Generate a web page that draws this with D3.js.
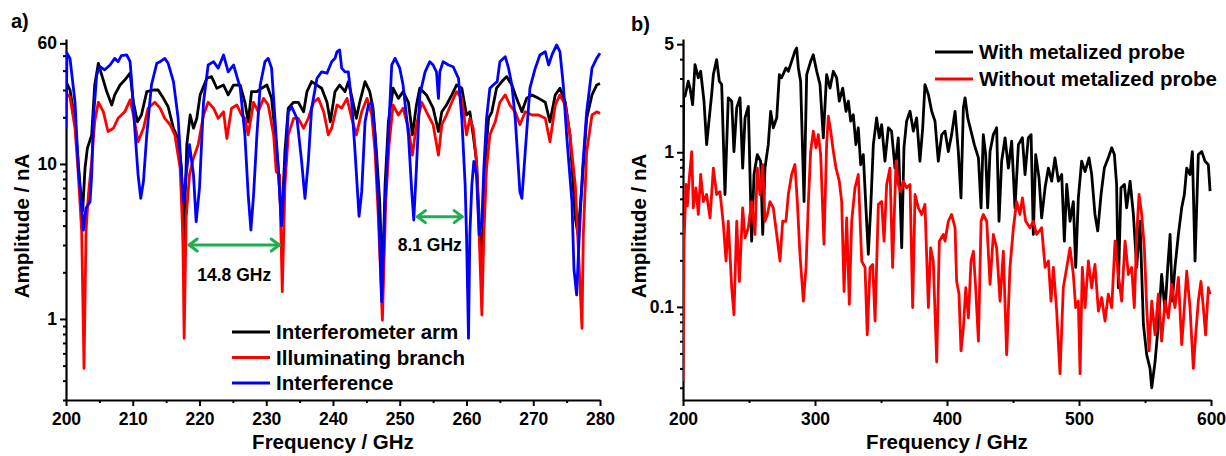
<!DOCTYPE html>
<html>
<head>
<meta charset="utf-8">
<script src="https://cdn.jsdelivr.net/npm/d3@7"></script>
<style>
  body { margin: 0; background: #fff; }
  svg { display: block; }
  text { font-family: "Liberation Sans", Arial, sans-serif; font-weight: bold; fill: #000; }
</style>
</head>
<body>
<svg id="chart" width="1226" height="456"></svg>
<script>
// ---- panel a) data: [frequency GHz, amplitude nA] ----
const interferometerArm = [[200,34],[200.6,30],[201.35,18.7],[202.1,7.3],[202.5,5.0],[202.85,9.4],[203.2,12.6],[203.85,15.4],[204.3,32.3],[204.85,44.6],[205.35,37.5],[206.1,29.3],[206.85,24],[207.3,27.9],[208.1,32.3],[208.8,34.8],[209.6,38.5],[210.1,25],[210.7,18.7],[211.3,20.7],[212.1,29.3],[213.1,30],[213.8,30],[214.6,26.5],[215.3,23.4],[216.1,17],[216.8,14.6],[217.3,9.4],[217.6,2.8],[218.1,13.3],[218.6,20.7],[219.1,17],[219.6,19.7],[220.1,27.9],[221.1,35.7],[221.8,36.6],[222.6,30.8],[223.6,32.3],[224.3,27.9],[225.1,32.3],[226.1,32.3],[226.8,25],[227.3,18.7],[227.8,29.3],[228.6,29.3],[229.3,30.8],[230.1,32.3],[230.8,26.5],[231.3,16.2],[231.8,9.4],[232.3,4.0],[232.8,12],[233.3,22.9],[234.1,25],[234.8,25],[235.6,21.7],[236.1,29.3],[236.8,34],[237.6,32.3],[238.3,30.8],[239.1,25],[239.6,18.7],[240.3,29.3],[241.0,32.3],[241.8,29.3],[242.3,34],[243.0,25],[243.5,19.7],[244.0,25],[244.8,34],[245.5,29.3],[246.0,22.9],[246.5,12],[247.0,5.7],[247.4,1.66],[247.8,7.3],[248.3,18.7],[249.0,30.8],[249.8,26.5],[250.5,29.3],[251.3,25],[251.9,15.4],[252.5,24],[253.0,30.8],[254.0,27.9],[255.0,22.9],[255.8,16.2],[256.3,21.7],[257.0,24],[257.8,27.9],[258.5,32.3],[259.3,30.8],[260.0,20.7],[260.5,21.7],[261.0,15.4],[261.5,10.4],[262.0,3.5],[262.3,2.2],[262.7,9.4],[263.3,19.7],[263.8,21.7],[264.5,30.8],[265.3,34],[266.0,36.6],[266.8,32.3],[267.5,26.5],[268.3,21.7],[269.0,26.5],[269.8,27.9],[270.8,26.5],[271.8,25],[272.5,18.7],[273.3,27.9],[274.0,30.8],[274.8,25],[275.5,15.4],[276.3,4.5],[276.7,3.5],[277.3,7.3],[278.0,19.7],[278.8,27.9],[279.5,32.3],[280,33]];

const illuminatingBranch = [[200,28.6],[200.6,27],[201.35,17],[201.85,8.5],[202.35,3.66],[202.7,0.48],[203.0,3.66],[203.35,6.3],[203.85,10.4],[204.3,18.7],[204.85,25],[205.6,21.7],[206.3,16.2],[207.1,17],[207.8,19.7],[208.8,21.7],[209.6,25.9],[210.1,20.7],[210.8,13.9],[211.6,17],[212.3,22.9],[213.3,25],[214.1,22.9],[214.8,19.7],[215.6,17.9],[216.3,15.4],[217.1,9.4],[217.5,3.5],[217.7,0.75],[218.0,4.5],[218.5,8.5],[219.1,10.9],[219.8,13.3],[220.6,20.7],[221.3,25],[222.1,22.9],[222.8,19.7],[223.6,21.7],[224.1,14.6],[224.8,22.9],[225.6,24],[226.3,20.7],[226.8,19.7],[227.3,15.4],[228.1,25],[228.8,21.7],[229.6,26.5],[230.3,24],[231.1,15.4],[231.5,8.9],[232.0,8.5],[232.4,1.5],[232.8,7.3],[233.3,15.4],[234.1,19.7],[234.8,19.7],[235.6,17],[236.3,19.7],[237.1,25],[237.8,26.5],[238.6,21.7],[239.3,15.4],[239.8,17],[240.6,24],[241.3,22.9],[242.1,26.5],[242.8,19.7],[243.5,15.4],[244.3,21.7],[245.1,26.5],[245.8,20.7],[246.3,12],[246.8,4.5],[247.4,0.98],[247.9,5.7],[248.4,13.3],[249.0,24],[249.8,20.7],[250.5,22.9],[251.3,17],[251.9,11.4],[252.5,17.9],[253.3,25],[254.0,21.7],[255.0,17.9],[255.8,11.4],[256.3,17.9],[257.0,20.7],[257.8,25],[258.5,29.3],[259.3,26.5],[260.0,15.4],[260.5,19.7],[261.0,17],[261.5,10.4],[261.9,3.5],[262.3,1.06],[262.6,3.5],[263.0,9.4],[263.5,15.4],[264.3,18.7],[265.0,25],[265.8,27.9],[266.5,24],[267.3,21.7],[268.0,17.9],[268.8,21.7],[269.8,20.7],[270.8,20.7],[271.8,19.7],[272.5,13.9],[273.3,24],[274.0,27.9],[274.8,24],[275.5,15.4],[276.3,7.3],[276.9,2.1],[277.3,0.87],[277.5,3.5],[278.0,12],[278.8,20.7],[279.5,21.7],[280,21.2]];

const interference = [[200,17],[200.15,51.8],[200.6,48],[201.35,25],[201.85,9.4],[202.35,5.2],[202.6,3.75],[203.0,5.2],[203.6,5.7],[203.85,8.5],[204.1,19.7],[204.6,37.5],[205.1,42.4],[205.8,40.5],[206.6,43.5],[207.3,48],[207.8,45.7],[208.3,50],[209.1,50.5],[209.6,45.7],[209.8,35.7],[210.3,17],[210.8,8.5],[211.2,6.0],[211.6,7.7],[212.1,15.4],[212.8,32.3],[213.6,44.6],[214.1,45.7],[214.8,48],[215.3,44.6],[216.1,34],[216.8,19.7],[217.3,8.5],[217.6,5.7],[218.0,8.5],[218.5,13.3],[219.1,8.5],[219.5,4.25],[220.0,7.0],[220.6,25],[221.3,43.5],[222.1,45.7],[222.8,41.5],[223.6,50.5],[224.3,39.3],[225.1,43.5],[226.1,31],[226.8,15.4],[227.3,6.3],[227.7,3.75],[228.1,6.3],[228.6,15.4],[229.1,32.3],[229.8,45.7],[230.3,48],[230.8,41.5],[231.3,19.7],[231.8,9.4],[232.3,4.0],[232.8,9.4],[233.3,21.7],[233.8,23.4],[234.6,19.7],[235.3,10.4],[235.8,6.0],[236.3,10.4],[236.8,22.9],[237.6,35.7],[238.3,39.3],[239.1,38.5],[239.8,45.7],[240.3,48],[240.6,53],[241,54.4],[241.3,41.5],[241.8,39.3],[242.3,39.3],[242.8,25],[243.3,12],[243.9,4.6],[244.3,6.6],[244.8,18.7],[245.3,24],[245.8,25],[246.3,15.4],[246.8,5.7],[247.3,1.29],[247.8,5.7],[248.3,15.4],[248.8,43.5],[249.3,48],[250,41.5],[250.5,32.3],[251.3,15.4],[251.8,6.6],[252.1,4.35],[252.5,9.4],[253.0,27.9],[253.8,39.3],[254.5,45.7],[255.0,43.5],[255.5,39.3],[255.8,26.5],[256.0,39.3],[256.5,45.7],[257.3,43.5],[258.0,42.4],[258.8,35.7],[259.3,19.7],[259.8,7.3],[260.0,3.5],[260.3,0.75],[260.5,3.5],[260.8,7.3],[261.1,10.4],[261.5,8.5],[261.9,3.5],[262.3,4.25],[262.6,9.4],[263.0,19.7],[263.5,30.8],[264.0,32.3],[264.6,34],[265.0,45.7],[265.8,49.2],[266.3,41.5],[266.8,32.3],[267.3,19.7],[268.0,6.6],[268.3,6.0],[268.8,12],[269.5,30.8],[270.3,41.5],[271,50.5],[271.8,53],[272.3,43.5],[272.8,50.5],[273.5,58.6],[274,53],[274.5,32.3],[275,15.4],[275.8,5.7],[276.1,2.1],[276.5,1.43],[276.9,3.5],[277.4,9.4],[278.0,21.7],[278.8,41.5],[279.5,48],[280,51.8]];

// ---- panel b) data ----
const withProbe = [[200,0.75],[200.5,2.3],[201.5,2.3],[204,2.88],[205.3,2.6],[207.3,2.03],[209.1,3.69],[211.6,3.03],[213.4,3.34],[215.9,2.14],[217.9,1.12],[219.9,1.67],[221.7,2.36],[223,3.18],[225.5,3.97],[227.5,2.88],[229.3,2.74],[231.8,0.533],[234.3,2.25],[236.9,2.14],[238.6,1.01],[240.7,1.94],[243.2,2.25],[245.2,0.79],[247,1.67],[249.5,1.98],[252,0.266],[253.8,0.718],[256.3,0.966],[258.8,0.875],[260.4,0.294],[262.1,0.79],[264.6,1.12],[266.4,1.84],[268.4,1.44],[271,1.67],[273,3.18],[274.7,3.03],[278,3.51],[279.8,3.34],[282.3,3.87],[284.8,4.5],[286.1,4.72],[287.4,3.51],[289.1,2.88],[291.7,0.48],[293.7,3.18],[296.7,3.87],[298.7,4.27],[301.3,3.34],[303.8,2.74],[306.3,1.24],[308.8,3.18],[311.4,2.6],[313.9,3.34],[316.4,3.03],[318.4,2.14],[321,2.6],[323.5,1.84],[325.3,2.14],[327,1.59],[329,1.75],[331,1.12],[332.8,1.44],[334.6,0.83],[336.6,0.966],[338.6,0.437],[340.4,0.219],[342.2,0.437],[344.2,1.12],[346.7,1.67],[348.7,1.24],[350.5,1.51],[353,0.875],[355.6,1.44],[358,1.37],[360.6,0.79],[363.1,1.24],[365.7,0.241],[367.4,1.07],[369.4,1.59],[372,1.84],[374.5,1.37],[377,1.67],[379.5,0.875],[381.6,1.44],[383.3,2.74],[385.9,2.36],[388.4,1.84],[390.9,1.59],[393.4,0.875],[396,1.3],[398.5,1.37],[401,1.01],[403.5,1.3],[406.1,1.84],[408.6,1.01],[410.6,0.507],[412.4,1.94],[413.7,2.25],[415.7,1.67],[418.2,1.37],[420.7,1.12],[423.8,0.92],[425.8,0.437],[427.5,1.3],[429.3,0.966],[430.8,0.437],[432.6,1.01],[435.1,1.3],[437.6,1.44],[439.4,0.358],[441.4,0.875],[444,1.24],[446.5,0.79],[449,1.18],[451.5,0.437],[454.1,1.12],[457.1,1.24],[459.1,0.718],[461.6,1.24],[463.7,1.3],[465.4,0.294],[467.2,0.966],[469.7,0.683],[471.7,0.376],[474.3,0.589],[476.8,0.79],[479.3,0.65],[481.8,0.92],[484.4,0.65],[486.9,0.718],[488.9,0.266],[490.7,0.619],[493.2,0.358],[495.7,0.48],[497.5,0.18],[499.5,0.507],[502,0.875],[504.6,0.75],[507.6,0.92],[509.6,0.718],[512.1,0.396],[514.2,0.31],[516.7,0.533],[519.2,0.79],[522.2,0.92],[524.8,1.07],[526.8,0.966],[528.5,0.619],[529.8,0.133],[531.8,0.589],[534.4,0.619],[536.1,0.437],[538.7,0.65],[541.2,0.396],[543.7,0.18],[546.2,0.358],[548.8,0.077],[551.3,0.049],[553.8,0.04],[555.1,0.030],[557.6,0.044],[560.1,0.077],[562.6,0.162],[565.2,0.094],[567.2,0.18],[569,0.294],[570.7,0.109],[572.7,0.18],[575.3,0.294],[577.8,0.437],[579.8,0.533],[581.6,0.79],[584.1,0.718],[585.9,1.01],[587.9,0.198],[590.4,0.966],[593,1.01],[595.5,0.875],[598,0.83],[599.3,0.56]];

const withoutProbe = [[200,0.033],[200.8,0.266],[202.3,0.619],[203.3,0.45],[204.8,0.683],[206.6,1.01],[207.8,0.437],[209.8,0.589],[211.6,0.396],[213.4,0.718],[215.4,0.48],[217.9,0.533],[220.5,0.376],[223,0.79],[225.5,0.533],[228,0.556],[230.6,0.341],[232.6,0.198],[234.3,0.358],[236.9,0.133],[238.6,0.089],[240.7,0.358],[242.7,0.146],[245.2,0.437],[247,0.28],[249.5,0.325],[252,0.48],[254.5,0.294],[256.3,0.79],[258.3,0.533],[260.4,0.833],[262.1,0.358],[263.9,0.396],[265.9,0.48],[268.4,0.437],[271,0.294],[273.5,0.198],[275.5,0.358],[278,0.358],[279.8,0.533],[282.3,0.718],[284.8,0.833],[286.6,0.48],[288.6,0.219],[291.2,0.109],[293.2,0.18],[295,0.48],[296.7,1.01],[298.7,1.37],[300.8,1.07],[302.5,1.3],[304.3,0.966],[306.8,0.254],[308.8,1.12],[310.1,1.71],[311.9,1.37],[313.9,1.01],[315.9,0.79],[318.4,0.65],[320.2,0.48],[322,0.126],[324,0.376],[326,0.104],[327.8,0.358],[330.3,0.589],[332.8,0.718],[335.4,0.198],[337.9,0.18],[339.6,0.066],[341.7,0.18],[343.7,0.188],[345.5,0.081],[348,0.46],[350.5,0.48],[352.3,0.266],[354.3,0.619],[356.8,0.79],[358.8,0.18],[361.4,0.875],[363.1,0.619],[364.9,0.556],[366.9,0.65],[369.4,0.589],[372,0.619],[374,0.099],[375.8,0.533],[378.3,0.437],[380.8,0.396],[383.3,0.46],[385.9,0.099],[387.6,0.241],[389.6,0.198],[392.2,0.044],[394.2,0.266],[397.2,0.294],[398.5,0.266],[401,0.358],[403.5,0.396],[406.1,0.325],[407.3,0.146],[409.1,0.121],[410.6,0.052],[412.4,0.073],[414.2,0.133],[416.2,0.085],[418.2,0.198],[420,0.229],[421.7,0.133],[423.8,0.06],[425.8,0.358],[427.5,0.396],[430.1,0.358],[432.6,0.14],[435.1,0.294],[437.6,0.241],[440.2,0.109],[442.7,0.229],[445.2,0.049],[447.7,0.18],[450.3,0.325],[452.8,0.48],[455.3,0.396],[457.1,0.507],[459.6,0.358],[462.9,0.325],[465.4,0.358],[467.9,0.294],[471.7,0.325],[474.3,0.18],[476.8,0.198],[478.8,0.109],[480.6,0.18],[483.1,0.094],[485.6,0.037],[488.1,0.133],[490.7,0.18],[493.2,0.241],[495.7,0.162],[497.5,0.099],[499.5,0.109],[500.8,0.037],[502.5,0.18],[504.6,0.099],[507.1,0.198],[509.6,0.133],[512.1,0.188],[514.7,0.094],[517.2,0.115],[519.7,0.081],[522.2,0.121],[524.8,0.099],[527.3,0.266],[529.8,0.162],[532.3,0.109],[534.9,0.266],[537.4,0.162],[539.9,0.18],[541.9,0.099],[543.7,0.294],[545.5,0.533],[547.5,0.396],[549.5,0.241],[551.3,0.099],[553.1,0.052],[555.1,0.109],[557.6,0.066],[560.1,0.121],[562.6,0.06],[565.2,0.109],[567.7,0.085],[570.2,0.14],[572.7,0.099],[575.3,0.155],[577.8,0.057],[579.8,0.099],[581.6,0.17],[584.1,0.099],[586.6,0.04],[588.4,0.066],[590.4,0.109],[592.4,0.146],[594.2,0.099],[595.9,0.066],[598,0.133],[599.3,0.121]];

// tick labels
const aXTicks = [200, 210, 220, 230, 240, 250, 260, 270, 280];
const aYTicks = [1, 10, 60];
const bXTicks = [200, 300, 400, 500, 600];
const bYTicks = [0.1, 1, 5];

// annotations (freq start, freq end, amplitude, label)
const spacingMarks = [
  { from: 218.3, to: 232.1, amp: 3.0, label: '14.8 GHz', labelAt: 225.2, labelAmp: 1.75 },
  { from: 252.5, to: 259.5, amp: 4.57, label: '8.1 GHz', labelAt: 254.5, labelAmp: 2.75 }
];

const svg = d3.select('#chart');

function drawPanel(cfg) {
  const x = d3.scaleLinear().domain(cfg.xDomain).range([cfg.left, cfg.right]);
  const y = d3.scaleLog().domain(cfg.yDomain).range([400, 39]);
  const g = svg.append('g');

  // minor ticks
  const minorY = y.ticks().filter(v => !cfg.yTicks.includes(v));
  g.append('g')
    .attr('transform', `translate(${cfg.left},0)`)
    .call(d3.axisLeft(y).tickValues(minorY).tickSize(3).tickFormat('').tickSizeOuter(0))
    .call(a => a.select('.domain').remove());
  g.append('g')
    .attr('transform', 'translate(0,400)')
    .call(d3.axisBottom(x).tickValues(cfg.xMinor).tickSize(3).tickFormat('').tickSizeOuter(0))
    .call(a => a.select('.domain').remove());

  // major axes
  g.append('g')
    .attr('transform', `translate(${cfg.left},0)`)
    .call(d3.axisLeft(y).tickValues(cfg.yTicks).tickSize(6).tickPadding(3).tickSizeOuter(0)
      .tickFormat(d => String(d)));
  g.append('g')
    .attr('transform', 'translate(0,400)')
    .call(d3.axisBottom(x).tickValues(cfg.xTicks).tickSize(6).tickPadding(7).tickSizeOuter(0));

  g.selectAll('.tick line').attr('stroke', '#000').attr('stroke-width', 2);
  g.selectAll('.domain').attr('stroke', '#000').attr('stroke-width', 2.2);
  g.selectAll('.tick text').attr('font-size', 17.5).attr('font-family', '"Liberation Sans", Arial, sans-serif')
    .attr('font-weight', 'bold');

  // clip
  g.append('clipPath').attr('id', cfg.id + '-clip')
    .append('rect').attr('x', cfg.left).attr('y', 38).attr('width', cfg.right - cfg.left + 2).attr('height', 362);

  const line = d3.line().x(d => x(d[0])).y(d => y(d[1]));
  const plot = g.append('g').attr('clip-path', `url(#${cfg.id}-clip)`);
  cfg.series.forEach(s => {
    plot.append('path')
      .datum(s.data)
      .attr('d', line)
      .attr('fill', 'none')
      .attr('stroke', s.color)
      .attr('stroke-width', 2.8)
      .attr('stroke-linejoin', 'round');
  });

  // titles
  g.append('text')
    .attr('x', (cfg.left + cfg.right) / 2).attr('y', 449)
    .attr('text-anchor', 'middle').attr('font-size', 20.5)
    .text('Frequency / GHz');
  g.append('text')
    .attr('transform', `translate(${cfg.left - 37},226) rotate(-90)`)
    .attr('text-anchor', 'middle').attr('font-size', 20.5)
    .text('Amplitude / nA');
  g.append('text')
    .attr('x', cfg.tagX).attr('y', cfg.tagY)
    .attr('font-size', 20)
    .text(cfg.tag);

  // legend
  cfg.series.forEach((s, i) => {
    const ly = cfg.legendY + i * cfg.legendStep;
    g.append('line')
      .attr('x1', cfg.legendX).attr('x2', cfg.legendX + 38)
      .attr('y1', ly).attr('y2', ly)
      .attr('stroke', s.color).attr('stroke-width', 2.8);
    g.append('text')
      .attr('x', cfg.legendX + 44).attr('y', ly + 7)
      .attr('font-size', 20.5)
      .text(s.name);
  });

  return { g, x, y };
}

const panelA = drawPanel({
  id: 'a', left: 66, right: 600,
  xDomain: [200, 280], yDomain: [0.3, 64],
  xTicks: aXTicks, xMinor: d3.range(205, 280, 10), yTicks: aYTicks,
  tag: 'a)', tagX: 11, tagY: 28,
  legendX: 232, legendY: 332, legendStep: 25.5,
  series: [
    { name: 'Interferometer arm', data: interferometerArm, color: '#000000' },
    { name: 'Illuminating branch', data: illuminatingBranch, color: '#ff0000' },
    { name: 'Interference', data: interference, color: '#0000ff' }
  ]
});

drawPanel({
  id: 'b', left: 683, right: 1211,
  xDomain: [200, 600], yDomain: [0.025, 5.4],
  xTicks: bXTicks, xMinor: d3.range(250, 600, 100), yTicks: bYTicks,
  tag: 'b)', tagX: 631, tagY: 31,
  legendX: 935, legendY: 52, legendStep: 27,
  series: [
    { name: 'With metalized probe', data: withProbe, color: '#000000' },
    { name: 'Without metalized probe', data: withoutProbe, color: '#ff0000' }
  ]
});

// green spacing arrows in panel a
const green = '#1fae4f';
spacingMarks.forEach(m => {
  const x1 = panelA.x(m.from), x2 = panelA.x(m.to), yy = panelA.y(m.amp);
  const ag = panelA.g.append('g').attr('stroke', green).attr('stroke-width', 3)
    .attr('fill', 'none').attr('stroke-linecap', 'round').attr('stroke-linejoin', 'round');
  ag.append('line').attr('x1', x1 + 1).attr('x2', x2 - 1).attr('y1', yy).attr('y2', yy);
  ag.append('path').attr('d', `M${x1 + 9},${yy - 6} L${x1 + 1},${yy} L${x1 + 9},${yy + 6}`);
  ag.append('path').attr('d', `M${x2 - 9},${yy - 6} L${x2 - 1},${yy} L${x2 - 9},${yy + 6}`);
  panelA.g.append('text')
    .attr('x', panelA.x(m.labelAt)).attr('y', panelA.y(m.labelAmp))
    .attr('text-anchor', 'middle').attr('font-size', 17.5)
    .text(m.label);
});
</script>
</body>
</html>
